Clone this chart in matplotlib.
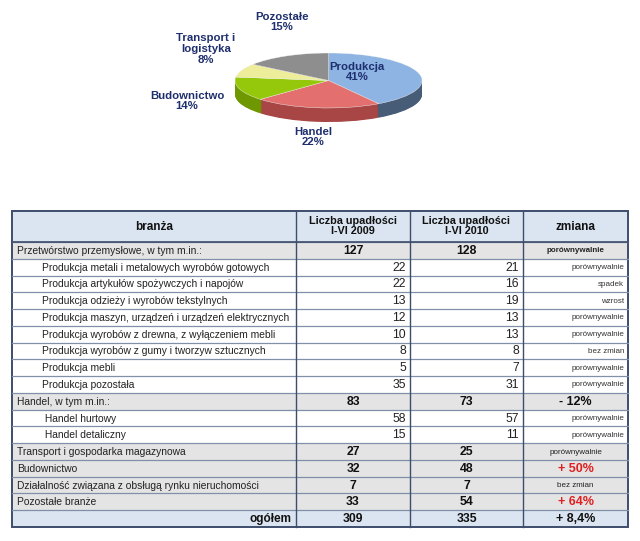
import numpy as np
import matplotlib.pyplot as plt
from matplotlib.patches import Rectangle

plt.rcParams['font.family'] = ['Liberation Sans', 'DejaVu Sans']

# pie data
pie_names = ['Produkcja', 'Handel', 'Budownictwo', 'Transport i\nlogistyka', 'Pozostałe']
pie_shares = [41, 22, 14, 8, 15]
top_colors = ['#8db4e3', '#e36f6f', '#95c80a', '#eeed9a', '#8e8e8e']
side_colors = ['#475c76', '#a84646', '#6f9800', '#c4c36c', '#6a6a6a']

# table data
header = ['branża', 'Liczba upadłości\nI-VI 2009', 'Liczba upadłości\nI-VI 2010', 'zmiana']
rows = [
    'Przetwórstwo przemysłowe, w tym m.in.:',
    'Produkcja metali i metalowych wyrobów gotowych',
    'Produkcja artykułów spożywczych i napojów',
    'Produkcja odzieży i wyrobów tekstylnych',
    'Produkcja maszyn, urządzeń i urządzeń elektrycznych',
    'Produkcja wyrobów z drewna, z wyłączeniem mebli',
    'Produkcja wyrobów z gumy i tworzyw sztucznych',
    'Produkcja mebli',
    'Produkcja pozostała',
    'Handel, w tym m.in.:',
    ' Handel hurtowy',
    ' Handel detaliczny',
    'Transport i gospodarka magazynowa',
    'Budownictwo',
    'Działalność związana z obsługą rynku nieruchomości',
    'Pozostałe branże',
    'ogółem',
]
v2009 = [127, 22, 22, 13, 12, 10, 8, 5, 35, 83, 58, 15, 27, 32, 7, 33, 309]
v2010 = [128, 21, 16, 19, 13, 13, 8, 7, 31, 73, 57, 11, 25, 48, 7, 54, 335]
zmiana = ['porównywalnie', 'porównywalnie', 'spadek', 'wzrost', 'porównywalnie',
          'porównywalnie', 'bez zmian', 'porównywalnie', 'porównywalnie', '- 12%',
          'porównywalnie', 'porównywalnie', 'porównywalnie', '+ 50%', 'bez zmian',
          '+ 64%', '+ 8,4%']
level = [0, 1, 1, 1, 1, 1, 1, 1, 1, 0, 1, 1, 0, 0, 0, 0, 2]

W, H = 640, 541
fig = plt.figure(figsize=(W / 100, H / 100), dpi=100)

# ---- 3D-looking pie ----
x0, x1, ytop, yface, ybot = 235, 422, 53, 108, 122
ry = (yface - ytop) / 2
dk = (ybot - yface) / ry
pa = fig.add_axes([x0 / W, 1 - ybot / H, (x1 - x0) / W, (ybot - ytop) / H])
for d in np.linspace(dk, 0.02, 25):
    pa.pie(pie_shares, colors=side_colors, startangle=90, counterclock=False,
           center=(0, -d), wedgeprops=dict(linewidth=0))
pa.pie(pie_shares, colors=top_colors, startangle=90, counterclock=False,
       wedgeprops=dict(linewidth=0.3, edgecolor='#f4f4f4'))
pa.set_aspect('auto')
pa.set_xlim(-1, 1)
pa.set_ylim(-1 - dk, 1)
pa.axis('off')

ax = fig.add_axes([0, 0, 1, 1])
ax.set_xlim(0, W)
ax.set_ylim(H, 0)
ax.axis('off')
ax.patch.set_alpha(0)

label_pos = [(357, 72), (313, 137), (187, 101), (206, 49), (282, 22)]
for name, s, (lx, ly) in zip(pie_names, pie_shares, label_pos):
    ax.text(lx, ly, f'{name}\n{s}%', ha='center', va='center', fontsize=8.2,
            fontweight='bold', color='#1f2f6e', linespacing=1.1)

# ---- table ----
cols = [12, 296, 410, 523, 628]
top, hdr_bot, bottom = 211, 242, 527
rh = (bottom - hdr_bot) / len(rows)
hdr_col = '#dbe5f1'
cat_col = '#e4e4e4'
line_col = '#3d4d6b'
hline_col = '#8090a8'

ax.add_patch(Rectangle((cols[0], top), cols[-1] - cols[0], hdr_bot - top,
                       facecolor=hdr_col, edgecolor='none'))
for j, h in enumerate(header):
    xc = (cols[j] + cols[j + 1]) / 2
    ax.text(xc, (top + hdr_bot) / 2, h, ha='center', va='center',
            fontsize=8.5 if j in (0, 3) else 7.8, fontweight='bold',
            color='#111111', linespacing=1.0)

for i, name in enumerate(rows):
    y0 = hdr_bot + i * rh
    yc = y0 + rh / 2 + 0.5
    lv = level[i]
    fc = 'white' if lv == 1 else (hdr_col if lv == 2 else cat_col)
    ax.add_patch(Rectangle((cols[0], y0), cols[-1] - cols[0], rh,
                           facecolor=fc, edgecolor='none'))
    ax.plot([cols[0], cols[-1]], [y0, y0], color=hline_col, lw=0.9)
    # first column
    if lv == 0:
        ax.text(cols[0] + 5, yc, name, ha='left', va='center', fontsize=7.4, color='#222222')
    elif lv == 1:
        ax.text(cols[0] + 30, yc, name, ha='left', va='center', fontsize=7.4, color='#222222')
    else:
        ax.text(cols[1] - 4, yc, name, ha='right', va='center', fontsize=8.5,
                fontweight='bold', color='#111111')
    # numbers
    for j, v in ((1, v2009[i]), (2, v2010[i])):
        if lv == 1:
            ax.text(cols[j + 1] - 4, yc, str(v), ha='right', va='center',
                    fontsize=8.8, color='#222222')
        else:
            ax.text((cols[j] + cols[j + 1]) / 2, yc, str(v), ha='center',
                    va='center', fontsize=8.8, fontweight='bold', color='#111111')
    # change column
    z = zmiana[i]
    if lv == 1:
        ax.text(cols[4] - 4, yc, z, ha='right', va='center', fontsize=5.8, color='#333333')
    elif '%' in z:
        red = lv == 0 and v2010[i] / v2009[i] >= 1.5
        ax.text((cols[3] + cols[4]) / 2, yc, z, ha='center', va='center',
                fontsize=9, fontweight='bold', color='#e02020' if red else '#111111')
    else:
        ax.text((cols[3] + cols[4]) / 2, yc, z, ha='center', va='center',
                fontsize=5.8, fontweight='bold' if i == 0 else 'normal', color='#222222')

ax.plot([cols[0], cols[-1]], [hdr_bot, hdr_bot], color=line_col, lw=1.2)
for x in cols[1:-1]:
    ax.plot([x, x], [top, bottom], color=line_col, lw=1.0)
ax.add_patch(Rectangle((cols[0], top), cols[-1] - cols[0], bottom - top,
                       facecolor='none', edgecolor=line_col, lw=1.4))

fig.savefig('out.png', dpi=100)
